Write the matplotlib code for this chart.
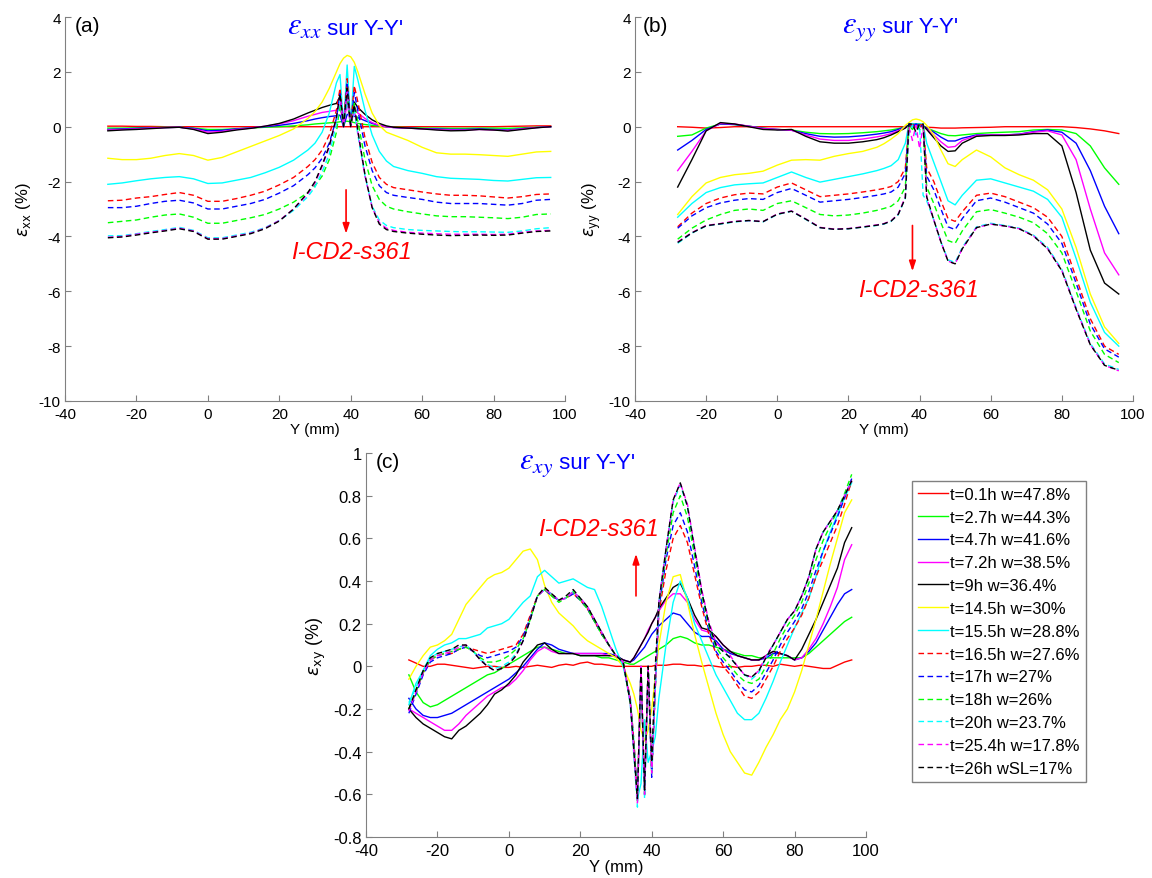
import matplotlib
matplotlib.use("Agg")
import matplotlib.pyplot as plt
from matplotlib.offsetbox import TextArea, HPacker, AnnotationBbox

plt.rcParams['font.family'] = ['Liberation Sans', 'DejaVu Sans']
plt.rcParams['axes.unicode_minus'] = False

# positions le long de Y-Y' (mm)
XAB = [-28, -24, -20, -16, -12, -8, -4, 0, 4, 8,
       12, 16, 20, 24, 28, 30, 32, 34, 36, 37,
       38, 39, 40, 41, 42, 44, 46, 48, 50, 52,
       56, 60, 64, 68, 72, 76, 80, 84, 88, 92,
       96]

XC = [-28, -26, -24, -22, -20, -18, -16, -14, -12, -10,
      -8, -6, -4, -2, 0, 2, 4, 6, 8, 10,
      12, 14, 16, 18, 20, 22, 24, 26, 28, 30,
      32, 34, 35, 36, 37, 38, 39, 40, 41, 42,
      44, 46, 48, 50, 52, 54, 56, 58, 60, 62,
      64, 66, 68, 70, 72, 74, 76, 78, 80, 82,
      84, 86, 88, 90, 92, 94, 96]

labels = ["t=0.1h w=47.8%", "t=2.7h w=44.3%", "t=4.7h w=41.6%", "t=7.2h w=38.5%",
          "t=9h w=36.4%", "t=14.5h w=30%", "t=15.5h w=28.8%", "t=16.5h w=27.6%",
          "t=17h w=27%", "t=18h w=26%", "t=20h w=23.7%", "t=25.4h w=17.8%",
          "t=26h wSL=17%"]
couleurs = ['#ff0000', '#00ff00', '#0000ff', '#ff00ff', '#000000', '#ffff00', '#00ffff',
            '#ff0000', '#0000ff', '#00ff00', '#00ffff', '#ff00ff', '#000000']
styles = ['-', '-', '-', '-', '-', '-', '-', '--', '--', '--', '--', '--', '--']

# ---------------- (a) exx ----------------
exx_t01 = [0.02, 0.02, 0.01, 0.01, 0.0, 0.0, 0.0, 0.0, 0.0, 0.0,
           0.0, 0.0, 0.0, 0.0, 0.0, 0.0, 0.0, 0.0, 0.0, 0.0,
           0.0, 0.0, 0.0, 0.0, 0.0, 0.0, 0.0, 0.0, 0.0, 0.0,
           0.0, 0.0, 0.0, 0.0, 0.0, 0.0, 0.0, 0.01, 0.02, 0.03,
           0.03]
exx_t27 = [-0.05, -0.05, -0.04, -0.03, -0.02, -0.02, -0.05, -0.1, -0.1, -0.07,
           -0.05, -0.02, 0.0, 0.03, 0.07, 0.1, 0.12, 0.14, 0.16, 0.18,
           0.2, 0.2, 0.18, 0.15, 0.12, 0.08, 0.05, 0.02, 0.0, -0.02,
           -0.03, -0.05, -0.05, -0.06, -0.06, -0.05, -0.05, -0.06, -0.04, -0.02,
           0.0]
exx_t47 = [-0.1, -0.08, -0.06, -0.04, -0.03, -0.02, -0.06, -0.15, -0.13, -0.08,
           -0.04, 0.0, 0.05, 0.12, 0.22, 0.28, 0.33, 0.37, 0.4, 0.42,
           0.0, 0.45, 0.42, 0.38, 0.33, 0.22, 0.12, 0.05, 0.0, -0.03,
           -0.05, -0.07, -0.08, -0.1, -0.1, -0.08, -0.1, -0.12, -0.07, -0.03,
           0.0]
exx_t72 = [-0.12, -0.1, -0.08, -0.05, -0.03, -0.02, -0.08, -0.2, -0.17, -0.1,
           -0.05, 0.02, 0.1, 0.22, 0.38, 0.45, 0.52, 0.56, 0.6, 0.8,
           0.0, 0.9, 0.0, 0.7, 0.5, 0.3, 0.15, 0.05, 0.0, -0.03,
           -0.05, -0.08, -0.1, -0.12, -0.12, -0.1, -0.12, -0.14, -0.08, -0.03,
           0.0]
exx_t9 = [-0.15, -0.12, -0.1, -0.07, -0.04, -0.02, -0.1, -0.25, -0.2, -0.12,
          -0.06, 0.02, 0.12, 0.28, 0.5, 0.6, 0.7, 0.78, 0.85, 1.1,
          0.0, 1.2, 0.0, 0.9, 0.7, 0.45, 0.25, 0.12, 0.03, -0.02,
          -0.05, -0.08, -0.12, -0.15, -0.14, -0.1, -0.12, -0.16, -0.1, -0.04,
          0.0]
exx_t145 = [-1.15, -1.2, -1.2, -1.15, -1.05, -0.98, -1.05, -1.22, -1.12, -0.92,
            -0.72, -0.52, -0.32, -0.08, 0.3, 0.55, 0.9, 1.4, 2.0, 2.3,
            2.5, 2.6, 2.55, 2.35, 2.0, 1.2, 0.5, 0.05, -0.2, -0.3,
            -0.5, -0.75, -0.95, -1.0, -1.0, -1.02, -1.05, -1.08, -1.0, -0.92,
            -0.9]
exx_t155 = [-2.1, -2.05, -1.97, -1.9, -1.85, -1.82, -1.9, -2.07, -2.05, -1.95,
            -1.85, -1.68, -1.48, -1.22, -0.85, -0.6, -0.2, 0.5, 1.6, 1.9,
            0.05, 2.25, 0.05, 2.2, 1.7, 0.6, -0.3, -0.9, -1.25, -1.45,
            -1.6, -1.7, -1.82, -1.88, -1.9, -1.92, -1.96, -1.98, -1.92, -1.86,
            -1.85]
exx_t165 = [-2.7, -2.68, -2.6, -2.55, -2.47, -2.4, -2.5, -2.72, -2.72, -2.62,
            -2.5, -2.35, -2.12, -1.85, -1.45, -1.2, -0.85, -0.3, 0.6, 1.4,
            0.05, 1.75, 0.05, 1.5, 0.9, -0.4, -1.3, -1.85, -2.1, -2.22,
            -2.3, -2.38, -2.45, -2.5, -2.5, -2.52, -2.56, -2.6, -2.55, -2.47,
            -2.45]
exx_t17 = [-2.95, -2.95, -2.9, -2.8, -2.72, -2.68, -2.78, -3.0, -3.0, -2.9,
           -2.8, -2.65, -2.42, -2.15, -1.75, -1.5, -1.15, -0.6, 0.3, 1.2,
           0.05, 1.55, 0.05, 1.25, 0.6, -0.7, -1.6, -2.15, -2.4, -2.5,
           -2.58, -2.65, -2.75, -2.8, -2.8, -2.8, -2.83, -2.86, -2.8, -2.68,
           -2.65]
exx_t18 = [-3.5, -3.45, -3.4, -3.3, -3.22, -3.18, -3.3, -3.52, -3.52, -3.42,
           -3.32, -3.2, -3.0, -2.75, -2.4, -2.15, -1.8, -1.2, -0.2, 0.8,
           0.05, 1.2, 0.05, 0.85, 0.2, -1.2, -2.15, -2.65, -2.9, -3.0,
           -3.1, -3.18, -3.25, -3.28, -3.28, -3.3, -3.32, -3.35, -3.3, -3.2,
           -3.18]
exx_t20 = [-3.98, -3.97, -3.9, -3.82, -3.75, -3.67, -3.78, -4.05, -4.05, -3.95,
           -3.85, -3.68, -3.42, -3.05, -2.55, -2.2, -1.65, -1.0, 0.1, 1.0,
           0.05, 1.05, 0.05, 0.6, -0.3, -1.8, -2.9, -3.4, -3.6, -3.68,
           -3.75, -3.78, -3.8, -3.82, -3.83, -3.83, -3.84, -3.85, -3.8, -3.72,
           -3.68]
exx_t254 = [-4.03, -4.0, -3.92, -3.85, -3.78, -3.7, -3.8, -4.08, -4.08, -3.98,
            -3.88, -3.7, -3.42, -3.0, -2.45, -2.05, -1.45, -0.75, 0.3, 1.1,
            0.05, 1.3, 0.05, 0.7, -0.2, -1.8, -2.95, -3.5, -3.7, -3.78,
            -3.85, -3.88, -3.9, -3.92, -3.92, -3.92, -3.93, -3.92, -3.85, -3.8,
            -3.78]
exx_t26 = [-4.05, -4.02, -3.95, -3.87, -3.8, -3.72, -3.82, -4.1, -4.1, -4.0,
           -3.9, -3.72, -3.44, -3.0, -2.4, -2.0, -1.4, -0.7, 0.35, 1.2,
           0.05, 1.4, 0.05, 0.8, -0.15, -1.75, -2.95, -3.55, -3.75, -3.82,
           -3.88, -3.92, -3.95, -3.97, -3.96, -3.95, -3.96, -3.95, -3.88, -3.82,
           -3.8]

# ---------------- (b) eyy ----------------
eyy_t01 = [0.0, -0.02, -0.05, -0.03, 0.0, 0.0, 0.0, 0.0, 0.0, 0.0,
           0.0, 0.0, 0.0, 0.0, 0.0, 0.0, 0.0, 0.0, 0.0, 0.0,
           0.0, 0.0, 0.0, 0.0, -0.02, -0.03, -0.05, -0.05, -0.05, -0.04,
           -0.03, -0.02, 0.0, 0.0, 0.0, 0.0, 0.0, -0.03, -0.08, -0.15,
           -0.25]
eyy_t27 = [-0.35, -0.3, -0.05, 0.1, 0.08, 0.02, -0.05, -0.1, -0.12, -0.2,
           -0.25, -0.26, -0.25, -0.22, -0.18, -0.15, -0.12, -0.07, 0.0, 0.03,
           0.05, 0.05, 0.05, 0.02, -0.05, -0.15, -0.25, -0.32, -0.33, -0.3,
           -0.25, -0.22, -0.2, -0.18, -0.12, -0.1, -0.12, -0.25, -0.7, -1.5,
           -2.1]
eyy_t47 = [-0.85, -0.5, -0.1, 0.1, 0.08, 0.02, -0.06, -0.1, -0.13, -0.25,
           -0.35, -0.38, -0.37, -0.33, -0.27, -0.23, -0.18, -0.1, 0.0, 0.05,
           0.05, 0.08, 0.06, 0.02, -0.05, -0.2, -0.38, -0.52, -0.52, -0.42,
           -0.3, -0.3, -0.3, -0.27, -0.18, -0.12, -0.2, -0.6, -1.6, -2.9,
           -3.9]
eyy_t72 = [-1.6, -0.9, -0.15, 0.12, 0.1, 0.02, -0.07, -0.1, -0.13, -0.3,
           -0.45, -0.5, -0.5, -0.45, -0.37, -0.32, -0.25, -0.15, -0.02, 0.05,
           0.08, 0.1, 0.08, 0.0, -0.08, -0.3, -0.55, -0.75, -0.72, -0.5,
           -0.32, -0.3, -0.3, -0.28, -0.2, -0.15, -0.3, -1.2, -3.0, -4.6,
           -5.4]
eyy_t9 = [-2.2, -1.2, -0.15, 0.15, 0.1, 0.0, -0.1, -0.12, -0.1, -0.35,
          -0.55, -0.6, -0.6, -0.55, -0.47, -0.4, -0.3, -0.18, -0.05, 0.08,
          0.1, 0.1, 0.1, 0.05, -0.1, -0.4, -0.7, -0.9, -0.88, -0.6,
          -0.35, -0.32, -0.32, -0.3, -0.25, -0.25, -0.7, -2.4, -4.5, -5.7,
          -6.1]
eyy_t145 = [-3.2, -2.55, -2.05, -1.85, -1.75, -1.7, -1.62, -1.4, -1.22, -1.2,
            -1.22, -1.08, -0.98, -0.9, -0.75, -0.62, -0.45, -0.25, 0.05, 0.15,
            0.25, 0.28, 0.25, 0.18, 0.05, -0.3, -0.85, -1.35, -1.45, -1.2,
            -0.85, -1.1, -1.5, -1.75, -1.95, -2.3, -3.0, -4.4, -6.1, -7.3,
            -7.9]
eyy_t155 = [-3.3, -2.8, -2.4, -2.22, -2.12, -2.08, -2.05, -1.85, -1.65, -1.85,
            -2.02, -1.92, -1.82, -1.72, -1.6, -1.52, -1.42, -1.2, -0.6, 0.1,
            0.1, 0.1, 0.1, 0.1, -0.6, -1.3, -2.0, -2.7, -2.85, -2.5,
            -1.95, -1.9, -2.05, -2.2, -2.35, -2.65, -3.3, -4.8, -6.4, -7.5,
            -8.0]
eyy_t165 = [-3.65, -3.15, -2.8, -2.6, -2.48, -2.42, -2.45, -2.2, -2.05, -2.3,
            -2.55, -2.5, -2.45, -2.38, -2.3, -2.25, -2.18, -2.0, -1.5, 0.1,
            0.05, 0.1, 0.05, 0.1, -1.5, -2.0, -2.7, -3.35, -3.45, -3.1,
            -2.5, -2.42, -2.55, -2.75, -2.95, -3.3, -4.0, -5.5, -7.0, -8.0,
            -8.3]
eyy_t17 = [-3.7, -3.25, -2.95, -2.78, -2.68, -2.62, -2.65, -2.4, -2.25, -2.5,
           -2.75, -2.7, -2.65, -2.58, -2.5, -2.45, -2.38, -2.2, -1.7, 0.1,
           0.0, 0.1, 0.0, 0.05, -1.8, -2.3, -3.0, -3.65, -3.75, -3.35,
           -2.7, -2.6, -2.75, -2.95, -3.15, -3.55, -4.25, -5.7, -7.2, -8.1,
           -8.4]
eyy_t18 = [-4.1, -3.7, -3.4, -3.2, -3.05, -3.0, -3.05, -2.8, -2.7, -2.95,
           -3.2, -3.25, -3.22, -3.15, -3.05, -2.98, -2.9, -2.7, -2.2, 0.05,
           -0.1, 0.05, -0.1, 0.0, -2.2, -2.8, -3.5, -4.15, -4.25, -3.8,
           -3.1, -3.02, -3.15, -3.3, -3.5, -3.9, -4.6, -6.0, -7.45, -8.3,
           -8.6]
eyy_t20 = [-4.25, -3.88, -3.62, -3.55, -3.47, -3.43, -3.47, -3.2, -3.08, -3.38,
           -3.68, -3.74, -3.72, -3.66, -3.6, -3.55, -3.45, -3.2, -2.6, -0.2,
           0.05, -0.3, 0.05, -2.5, -2.7, -3.4, -4.2, -4.85, -4.95, -4.4,
           -3.65, -3.52, -3.6, -3.7, -3.95, -4.4, -5.2, -6.6, -7.9, -8.65,
           -8.85]
eyy_t254 = [-4.2, -3.86, -3.6, -3.53, -3.45, -3.42, -3.46, -3.18, -3.07, -3.36,
            -3.67, -3.73, -3.71, -3.65, -3.58, -3.53, -3.43, -3.18, -2.55, 0.0,
            -0.5, 0.05, -0.8, 0.05, -2.6, -3.4, -4.2, -4.9, -5.0, -4.45,
            -3.68, -3.55, -3.62, -3.72, -3.98, -4.45, -5.25, -6.65, -7.95, -8.7,
            -8.9]
eyy_t26 = [-4.22, -3.87, -3.61, -3.54, -3.46, -3.42, -3.46, -3.19, -3.08, -3.37,
           -3.68, -3.74, -3.72, -3.66, -3.59, -3.54, -3.44, -3.2, -2.6, 0.1,
           0.1, -0.2, 0.1, 0.1, -2.55, -3.4, -4.2, -4.9, -5.0, -4.45,
           -3.68, -3.55, -3.62, -3.72, -3.98, -4.45, -5.25, -6.65, -7.95, -8.7,
           -8.88]

# ---------------- (c) exy ----------------
exy_t01 = [0.03, 0.015, 0.0, 0.0, 0.01, 0.01, 0.005, 0.0, -0.005, -0.01,
           -0.005, 0.0, 0.0, -0.005, -0.005, 0.0, -0.005, 0.0, 0.005, 0.0,
           -0.005, 0.005, 0.01, 0.005, 0.015, 0.02, 0.01, 0.01, 0.005, 0.0,
           0.0, 0.0, 0.0, 0.0, 0.0, 0.0, 0.0, 0.0, 0.005, 0.005,
           0.005, 0.01, 0.01, 0.005, 0.005, 0.0, 0.005, 0.0, -0.005, 0.0,
           -0.005, 0.0, 0.0, 0.005, 0.005, 0.0, 0.01, 0.005, 0.0, 0.005,
           0.0, -0.005, -0.01, -0.01, 0.005, 0.02, 0.03]
exy_t27 = [-0.04, -0.12, -0.17, -0.19, -0.18, -0.16, -0.14, -0.12, -0.1, -0.08,
           -0.06, -0.04, -0.03, -0.01, 0.01, 0.03, 0.05, 0.07, 0.09, 0.09,
           0.08, 0.07, 0.06, 0.06, 0.05, 0.05, 0.05, 0.04, 0.04, 0.03,
           0.02, 0.01, 0.01, 0.02, 0.03, 0.04, 0.05, 0.06, 0.07, 0.08,
           0.1, 0.13, 0.14, 0.13, 0.11, 0.1, 0.1, 0.09, 0.08, 0.07,
           0.06, 0.05, 0.05, 0.04, 0.04, 0.04, 0.04, 0.04, 0.04, 0.04,
           0.06, 0.09, 0.12, 0.15, 0.18, 0.21, 0.23]
exy_t47 = [-0.15, -0.2, -0.23, -0.24, -0.24, -0.23, -0.22, -0.2, -0.18, -0.16,
           -0.14, -0.12, -0.1, -0.08, -0.06, -0.03, 0.0, 0.04, 0.08, 0.11,
           0.1, 0.08, 0.07, 0.06, 0.06, 0.06, 0.06, 0.06, 0.06, 0.05,
           0.03, 0.02, 0.03, 0.05, 0.07, 0.09, 0.12, 0.15, 0.17, 0.19,
           0.22, 0.25, 0.24, 0.2, 0.16, 0.14, 0.14, 0.12, 0.08, 0.06,
           0.05, 0.04, 0.03, 0.03, 0.04, 0.06, 0.06, 0.05, 0.03, 0.04,
           0.07, 0.11, 0.17, 0.23, 0.29, 0.34, 0.36]
exy_t72 = [-0.2, -0.22, -0.24, -0.26, -0.28, -0.3, -0.3, -0.27, -0.23, -0.2,
           -0.17, -0.14, -0.12, -0.1, -0.09, -0.06, -0.02, 0.03, 0.07, 0.09,
           0.07, 0.06, 0.06, 0.06, 0.06, 0.06, 0.06, 0.06, 0.05, 0.05,
           0.03, 0.02, 0.04, 0.07, 0.1, 0.13, 0.17, 0.2, 0.23, 0.26,
           0.31, 0.34, 0.34, 0.3, 0.22, 0.17, 0.16, 0.14, 0.1, 0.07,
           0.05, 0.04, 0.03, 0.03, 0.05, 0.07, 0.06, 0.05, 0.03, 0.04,
           0.08, 0.13, 0.2, 0.28, 0.37, 0.5, 0.57]
exy_t9 = [-0.2, -0.24, -0.27, -0.29, -0.31, -0.33, -0.34, -0.3, -0.28, -0.25,
          -0.22, -0.18, -0.13, -0.11, -0.08, -0.04, 0.02, 0.06, 0.1, 0.11,
          0.08, 0.06, 0.06, 0.06, 0.05, 0.05, 0.05, 0.05, 0.05, 0.05,
          0.03, 0.02, 0.04, 0.07, 0.1, 0.13, 0.16, 0.2, 0.23, 0.27,
          0.32, 0.37, 0.39, 0.32, 0.24, 0.18, 0.17, 0.14, 0.1, 0.07,
          0.05, 0.04, 0.03, 0.03, 0.05, 0.07, 0.06, 0.05, 0.03, 0.08,
          0.15, 0.22, 0.3, 0.38, 0.46, 0.58, 0.65]
exy_t145 = [-0.06, 0.0, 0.05, 0.09, 0.1, 0.12, 0.15, 0.22, 0.29, 0.33,
            0.37, 0.41, 0.43, 0.44, 0.46, 0.5, 0.54, 0.55, 0.5, 0.38,
            0.3, 0.25, 0.22, 0.19, 0.15, 0.12, 0.1, 0.08, 0.06, 0.04,
            0.0, -0.08, -0.13, -0.2, -0.3, -0.35, -0.3, -0.2, -0.05, 0.1,
            0.3, 0.42, 0.43, 0.3, 0.15, 0.02, -0.1, -0.22, -0.32, -0.4,
            -0.45, -0.5, -0.51, -0.45, -0.38, -0.32, -0.25, -0.2, -0.12, -0.02,
            0.1, 0.22, 0.35, 0.48, 0.6, 0.72, 0.78]
exy_t155 = [-0.18, -0.08, -0.02, 0.05, 0.08, 0.1, 0.11, 0.13, 0.13, 0.14,
            0.15, 0.18, 0.19, 0.2, 0.22, 0.26, 0.3, 0.33, 0.42, 0.45,
            0.42, 0.39, 0.4, 0.41, 0.39, 0.37, 0.36, 0.28, 0.18, 0.08,
            0.0, -0.15, -0.35, -0.62, -0.55, -0.25, -0.45, -0.4, -0.33, -0.15,
            0.1, 0.3, 0.4, 0.32, 0.2, 0.12, 0.04, -0.04, -0.1, -0.16,
            -0.22, -0.25, -0.25, -0.22, -0.15, -0.07, 0.02, 0.1, 0.18, 0.25,
            0.32, 0.42, 0.54, 0.63, 0.71, 0.79, 0.86]
exy_t165 = [-0.2, -0.12, -0.03, 0.03, 0.05, 0.06, 0.06, 0.08, 0.09, 0.08,
            0.07, 0.06, 0.07, 0.08, 0.09, 0.1, 0.15, 0.24, 0.33, 0.36,
            0.33, 0.31, 0.32, 0.34, 0.31, 0.27, 0.21, 0.15, 0.1, 0.05,
            0.02, -0.15, -0.35, -0.6, 0.0, -0.58, 0.0, -0.5, -0.1, 0.25,
            0.45, 0.6, 0.66, 0.58, 0.43, 0.28, 0.15, 0.06, 0.0, -0.04,
            -0.09, -0.14, -0.15, -0.12, -0.06, 0.0, 0.07, 0.13, 0.18, 0.24,
            0.32, 0.42, 0.5, 0.58, 0.66, 0.76, 0.87]
exy_t17 = [-0.22, -0.13, -0.04, 0.02, 0.04, 0.05, 0.06, 0.08, 0.09, 0.07,
           0.05, 0.04, 0.05, 0.06, 0.07, 0.09, 0.14, 0.23, 0.33, 0.36,
           0.33, 0.31, 0.32, 0.34, 0.31, 0.27, 0.21, 0.15, 0.1, 0.05,
           0.02, -0.16, -0.37, -0.62, 0.0, -0.6, 0.0, -0.52, -0.1, 0.27,
           0.5, 0.66, 0.72, 0.63, 0.47, 0.3, 0.17, 0.07, 0.02, -0.02,
           -0.07, -0.11, -0.12, -0.09, -0.03, 0.03, 0.1, 0.16, 0.21, 0.27,
           0.35, 0.45, 0.54, 0.62, 0.7, 0.79, 0.88]
exy_t18 = [-0.2, -0.12, -0.03, 0.03, 0.05, 0.06, 0.07, 0.08, 0.09, 0.07,
           0.04, 0.02, 0.02, 0.03, 0.05, 0.08, 0.13, 0.22, 0.33, 0.36,
           0.33, 0.3, 0.32, 0.35, 0.31, 0.27, 0.21, 0.15, 0.1, 0.05,
           0.02, -0.17, -0.38, -0.63, 0.0, -0.6, 0.0, -0.5, -0.1, 0.28,
           0.52, 0.72, 0.8, 0.7, 0.52, 0.33, 0.19, 0.09, 0.04, 0.0,
           -0.04, -0.07, -0.08, -0.06, 0.0, 0.06, 0.13, 0.19, 0.24, 0.3,
           0.39, 0.5, 0.59, 0.66, 0.73, 0.81, 0.9]
exy_t20 = [-0.17, -0.1, -0.02, 0.04, 0.06, 0.07, 0.08, 0.09, 0.1, 0.07,
           0.03, 0.01, -0.01, 0.0, 0.02, 0.06, 0.12, 0.22, 0.33, 0.36,
           0.34, 0.31, 0.32, 0.35, 0.32, 0.28, 0.22, 0.16, 0.1, 0.05,
           0.02, -0.18, -0.42, -0.66, 0.0, -0.62, 0.0, -0.5, -0.1, 0.3,
           0.55, 0.77, 0.85, 0.75, 0.55, 0.35, 0.2, 0.1, 0.07, 0.04,
           0.0, -0.04, -0.06, -0.03, 0.04, 0.1, 0.16, 0.22, 0.26, 0.33,
           0.42, 0.55, 0.63, 0.68, 0.73, 0.8, 0.87]
exy_t254 = [-0.21, -0.12, -0.03, 0.03, 0.05, 0.06, 0.07, 0.09, 0.1, 0.07,
            0.03, 0.0, -0.02, -0.01, 0.01, 0.05, 0.12, 0.22, 0.33, 0.36,
            0.34, 0.31, 0.32, 0.35, 0.32, 0.28, 0.22, 0.16, 0.1, 0.05,
            0.02, -0.17, -0.4, -0.64, 0.0, -0.6, 0.0, -0.5, -0.1, 0.3,
            0.55, 0.78, 0.86, 0.76, 0.56, 0.36, 0.21, 0.11, 0.08, 0.05,
            0.0, -0.04, -0.05, -0.02, 0.05, 0.1, 0.16, 0.22, 0.26, 0.33,
            0.42, 0.55, 0.63, 0.68, 0.73, 0.8, 0.87]
exy_t26 = [-0.2, -0.11, -0.02, 0.04, 0.06, 0.07, 0.08, 0.1, 0.1, 0.07,
           0.03, 0.0, -0.02, -0.01, 0.01, 0.05, 0.12, 0.22, 0.33, 0.37,
           0.34, 0.31, 0.33, 0.36, 0.32, 0.28, 0.22, 0.16, 0.1, 0.05,
           0.02, -0.17, -0.4, -0.62, 0.0, -0.58, 0.0, -0.45, 0.0, 0.3,
           0.55, 0.78, 0.86, 0.75, 0.55, 0.35, 0.2, 0.1, 0.07, 0.04,
           0.0, -0.04, -0.05, -0.02, 0.04, 0.1, 0.16, 0.22, 0.26, 0.33,
           0.42, 0.55, 0.63, 0.68, 0.73, 0.8, 0.87]

exx_all = [exx_t01, exx_t27, exx_t47, exx_t72, exx_t9, exx_t145, exx_t155,
           exx_t165, exx_t17, exx_t18, exx_t20, exx_t254, exx_t26]
eyy_all = [eyy_t01, eyy_t27, eyy_t47, eyy_t72, eyy_t9, eyy_t145, eyy_t155,
           eyy_t165, eyy_t17, eyy_t18, eyy_t20, eyy_t254, eyy_t26]
exy_all = [exy_t01, exy_t27, exy_t47, exy_t72, exy_t9, exy_t145, exy_t155,
           exy_t165, exy_t17, exy_t18, exy_t20, exy_t254, exy_t26]

W, H = 1152, 879
fig = plt.figure(figsize=(W / 100, H / 100), dpi=100)


def boite(x0, x1, y0, y1):
    # pixels -> fractions de figure
    return [x0 / W, 1 - y1 / H, (x1 - x0) / W, (y1 - y0) / H]


ax_a = fig.add_axes(boite(65, 565, 18, 402))
ax_b = fig.add_axes(boite(635, 1133, 18, 402))
ax_c = fig.add_axes(boite(366, 866, 454, 838))


def tracer(ax, xs, series):
    lignes = []
    for i in range(len(series)):
        ls = '-' if styles[i] == '-' else (0, (4, 2.5))
        l, = ax.plot(xs, series[i], color=couleurs[i], linestyle=ls, lw=1.0, label=labels[i])
        lignes.append(l)
    return lignes


def habiller(ax, ylab, lettre, indice, xc_titre, fs):
    ax.set_xlim(-40, 100)
    ax.set_xticks([-40, -20, 0, 20, 40, 60, 80, 100])
    for s in ['top', 'right']:
        ax.spines[s].set_visible(False)
    for s in ['left', 'bottom']:
        ax.spines[s].set_color('#808080')
    ax.tick_params(direction='in', length=4, color='#808080', labelsize=fs, pad=3)
    ax.tick_params(axis='x', pad=4)
    ax.set_xlabel('Y (mm)', fontsize=fs, labelpad=1)
    ax.set_ylabel(ylab, fontsize=fs + 1, labelpad=4)
    ax.text(0.02 if lettre != '(b)' else 0.016, 0.977, lettre, transform=ax.transAxes,
            fontsize=15, va='center', ha='left')
    # titre bleu : epsilon + ' sur Y-Y''
    t1 = TextArea(r'$\varepsilon_{' + indice + '}$',
                  textprops=dict(color='#0000ff', fontsize=22, math_fontfamily='stix'))
    t2 = TextArea(" sur Y-Y'", textprops=dict(color='#0000ff', fontsize=16))
    pack = HPacker(children=[t1, t2], align='baseline', pad=0, sep=0)
    ab = AnnotationBbox(pack, (xc_titre, 0.977), xycoords='axes fraction',
                        frameon=False, box_alignment=(0.5, 0.5))
    ax.add_artist(ab)


def fissure(ax, x_fl, y0, y1, xt, yt):
    ax.annotate('', xy=(x_fl, y1), xytext=(x_fl, y0),
                arrowprops=dict(arrowstyle='-|>,head_length=0.6,head_width=0.2',
                                color='red', lw=1.2))
    ax.text(xt, yt, 'I-CD2-s361', color='red', style='italic', fontsize=17,
            ha='center', va='center')


# (a)
tracer(ax_a, XAB, exx_all)
ax_a.set_ylim(-10, 4)
ax_a.set_yticks([-10, -8, -6, -4, -2, 0, 2, 4])
habiller(ax_a, r'$\varepsilon_{\mathrm{xx}}$ (%)', '(a)', 'xx', 0.56, 11)
fissure(ax_a, 38.7, -2.2, -4.0, 40.2, -4.55)

# (b)
tracer(ax_b, XAB, eyy_all)
ax_b.set_ylim(-10, 4)
ax_b.set_yticks([-10, -8, -6, -4, -2, 0, 2, 4])
habiller(ax_b, r'$\varepsilon_{\mathrm{yy}}$ (%)', '(b)', 'yy', 0.532, 11)
fissure(ax_b, 38.0, -3.5, -5.37, 39.6, -5.92)

# (c)
lignes = tracer(ax_c, XC, exy_all)
ax_c.set_ylim(-0.8, 1)
ax_c.set_yticks([-0.8, -0.6, -0.4, -0.2, 0, 0.2, 0.4, 0.6, 0.8, 1])
ax_c.set_yticklabels(['-0.8', '-0.6', '-0.4', '-0.2', '0', '0.2', '0.4', '0.6', '0.8', '1'])
habiller(ax_c, r'$\varepsilon_{\mathrm{xy}}$ (%)', '(c)', 'xy', 0.422, 12)
fissure(ax_c, 35.6, 0.317, 0.54, 25.1, 0.644)

fig.legend(handles=lignes, loc='upper left', bbox_to_anchor=(912 / W, 1 - 482 / H),
           borderaxespad=0, fontsize=12, frameon=True, fancybox=False,
           edgecolor='#808080', framealpha=1, handlelength=1.8, handletextpad=0.15,
           labelspacing=0.47, borderpad=0.35)

fig.savefig('out.png', dpi=100)
